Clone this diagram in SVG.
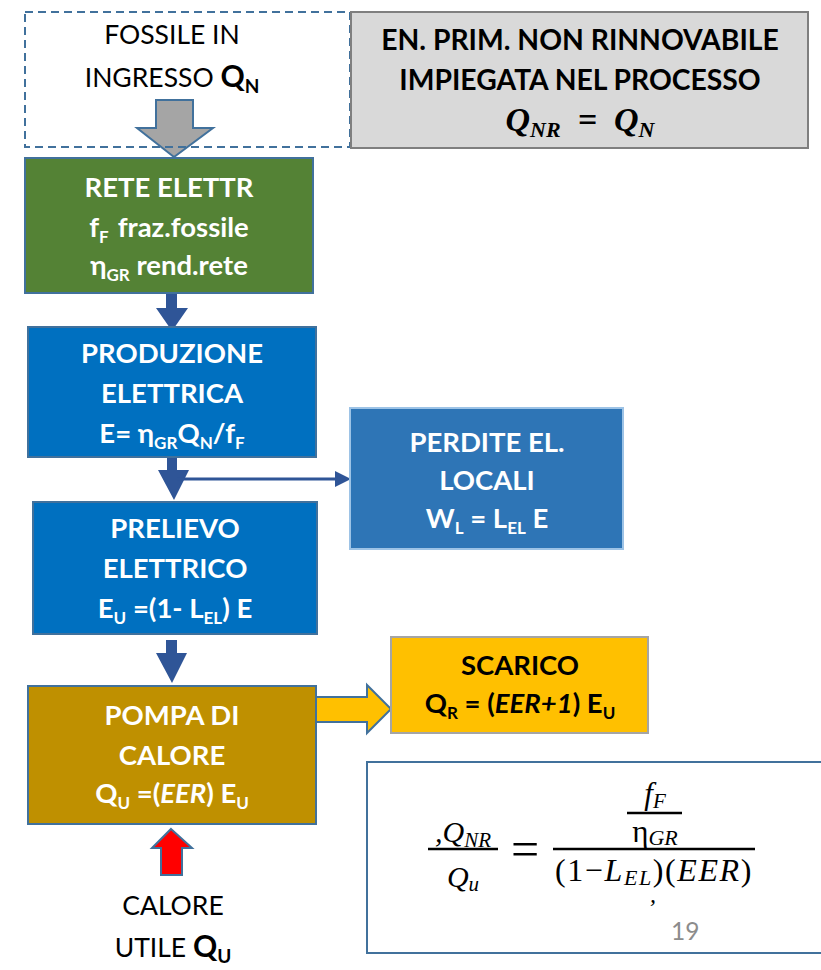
<svg xmlns="http://www.w3.org/2000/svg" width="821" height="970" viewBox="0 0 821 970">
<defs>
<style>
.t{font-family:Lato,"Liberation Sans",sans-serif;text-anchor:middle}
.b{font-weight:bold}
.w{fill:#ffffff}
.k{fill:#000000}
.m{font-family:"Liberation Serif","DejaVu Serif",serif;font-style:italic}
.box{stroke:#41719c;stroke-width:2}
.arr{fill:#2f5597;stroke:none}
</style>
</defs>
<rect width="821" height="970" fill="#ffffff"/>

<g id="connectors">
<polygon points="156,100 193,100 193,128 213,128 174,157 137,128 156,128" fill="#a5a5a5" stroke="#41719c" stroke-width="2"/>
<polygon class="arr" points="166,294 177,294 177,308 188,308 172,331 156,308 166,308"/>
<polygon class="arr" points="167,457 177,457 177,470 189,470 174,500 158,470 167,470"/>
<line x1="177" y1="479" x2="337" y2="479" stroke="#2f5597" stroke-width="3"/>
<polygon class="arr" points="335,471 351,479 335,487"/>
<polygon class="arr" points="166,640 177,640 177,653 187,653 172,683 156,653 166,653"/>
<polygon points="316,697 367,697 367,685 391,709 367,733 367,722 316,722" fill="#ffc000" stroke="#41719c" stroke-width="2"/>
<polygon points="171,829 192,848 182,848 182,875 161,875 161,848 152,848" fill="#ff0000" stroke="#41719c" stroke-width="2"/>
</g>

<g id="fossile">
<rect x="25" y="12" width="325" height="135" fill="none" stroke="#41719c" stroke-width="2" stroke-dasharray="8,5"/>
<text class="t k" x="172" y="44" font-size="26.5">FOSSILE IN</text>
<text class="t k" x="172" y="87" font-size="26.5">INGRESSO <tspan class="b" font-size="30">Q</tspan><tspan class="b" font-size="19" dy="6">N</tspan></text>
</g>

<g id="enprim">
<rect x="351" y="12" width="457" height="136" fill="#d9d9d9" stroke="#7f7f7f" stroke-width="2"/>
<text class="t b k" x="580" y="50" font-size="28.3">EN. PRIM. NON RINNOVABILE</text>
<text class="t b k" x="580" y="90" font-size="28.3">IMPIEGATA NEL PROCESSO</text>
<text class="t k m b" x="580" y="131" font-size="34" xml:space="preserve">Q<tspan font-size="22" dy="6">NR</tspan><tspan dy="-6">  =  Q</tspan><tspan font-size="22" dy="6">N</tspan></text>
</g>

<g id="rete">
<rect class="box" x="25" y="158" width="288" height="135" fill="#548235"/>
<text class="t b w" x="169" y="197" font-size="27.5">RETE ELETTR</text>
<text class="t b w" x="169" y="237" font-size="27.5">f<tspan font-size="17" dy="6">F</tspan><tspan dy="-6" dx="9">fraz.fossile</tspan></text>
<text class="t b w" x="169" y="275" font-size="27.5">η<tspan font-size="17" dy="6">GR</tspan><tspan dy="-6"> rend.rete</tspan></text>
</g>

<g id="produzione">
<rect class="box" x="28" y="327" width="288" height="130" fill="#0070c0"/>
<text class="t b w" x="172" y="363" font-size="27.5">PRODUZIONE</text>
<text class="t b w" x="172" y="403" font-size="27.5">ELETTRICA</text>
<text class="t b w" x="172" y="443" font-size="27.5">E= η<tspan font-size="17" dy="6">GR</tspan><tspan dy="-6">Q</tspan><tspan font-size="17" dy="6">N</tspan><tspan dy="-6">/f</tspan><tspan font-size="17" dy="6">F</tspan></text>
</g>

<g id="perdite">
<rect x="350" y="408" width="273" height="141" fill="#2e75b6" stroke="#9dc3e6" stroke-width="2"/>
<text class="t b w" x="487" y="452" font-size="27.5">PERDITE EL.</text>
<text class="t b w" x="487" y="490" font-size="27.5">LOCALI</text>
<text class="t b w" x="487" y="528" font-size="27.5">W<tspan font-size="17" dy="6">L</tspan><tspan dy="-6"> = L</tspan><tspan font-size="17" dy="6">EL</tspan><tspan dy="-6"> E</tspan></text>
</g>

<g id="prelievo">
<rect class="box" x="33" y="502" width="284" height="132" fill="#0070c0"/>
<text class="t b w" x="175" y="538" font-size="27.5">PRELIEVO</text>
<text class="t b w" x="175" y="578" font-size="27.5">ELETTRICO</text>
<text class="t b w" x="175" y="618" font-size="27.5">E<tspan font-size="17" dy="6">U</tspan><tspan dy="-6"> =(1- L</tspan><tspan font-size="17" dy="6">EL</tspan><tspan dy="-6">) E</tspan></text>
</g>

<g id="pompa">
<rect class="box" x="28" y="686" width="288" height="138" fill="#bf9000"/>
<text class="t b w" x="172" y="725" font-size="27.5">POMPA DI</text>
<text class="t b w" x="172" y="765" font-size="27.5">CALORE</text>
<text class="t b w" x="172" y="803" font-size="27.5">Q<tspan font-size="17" dy="6">U</tspan><tspan dy="-6"> =(</tspan><tspan font-style="italic">EER</tspan>) E<tspan font-size="17" dy="6">U</tspan></text>
</g>

<g id="scarico">
<rect x="391" y="637" width="257" height="96" fill="#ffc000" stroke="#a5a5a5" stroke-width="2"/>
<text class="t b k" x="520" y="675" font-size="27.5">SCARICO</text>
<text class="t b k" x="520" y="713" font-size="27.5">Q<tspan font-size="17" dy="6">R</tspan><tspan dy="-6"> = (</tspan><tspan font-style="italic">EER+1</tspan>) E<tspan font-size="17" dy="6">U</tspan></text>
</g>

<g id="calore-utile">
<text class="t k" x="173" y="915" font-size="26.5">CALORE</text>
<text class="t k" x="173" y="957" font-size="26.5">UTILE <tspan class="b" font-size="30">Q</tspan><tspan class="b" font-size="19" dy="6">U</tspan></text>
</g>

<g id="formula">
<rect x="367" y="762" width="470" height="191" fill="#ffffff" stroke="#41719c" stroke-width="2"/>
<text class="m k" x="463" y="842" font-size="30" text-anchor="middle">,Q<tspan font-size="21" dy="5">NR</tspan></text>
<line x1="428" y1="849" x2="498" y2="849" stroke="#000" stroke-width="2.5"/>
<text class="m k" x="463" y="887" font-size="30" text-anchor="middle">Q<tspan font-size="21" dy="4">u</tspan></text>
<text x="525" y="866" font-size="50" text-anchor="middle" font-family="Liberation Serif,serif" fill="#000">=</text>
<line x1="553" y1="849" x2="755" y2="849" stroke="#000" stroke-width="2.5"/>
<text class="m k" x="655" y="804" font-size="31" text-anchor="middle">f<tspan font-size="21" dy="4">F</tspan></text>
<line x1="627" y1="813" x2="682" y2="813" stroke="#000" stroke-width="2.5"/>
<text class="m k" x="655" y="842" font-size="31" text-anchor="middle"><tspan font-style="normal">η</tspan><tspan font-size="22" dy="3">GR</tspan></text>
<text class="m k" x="654" y="881" font-size="32" letter-spacing="1.6" text-anchor="middle"><tspan font-style="normal">(1−</tspan>L<tspan font-size="22" dy="4">EL</tspan><tspan dy="-4" font-style="normal">)(</tspan>EER<tspan font-style="normal">)</tspan></text>
<text class="m k" x="650" y="902" font-size="24">,</text>
<text x="671" y="940" font-size="24.5" font-family="Lato,'Liberation Sans',sans-serif" fill="#8c8c8c">19</text>
</g>
</svg>
